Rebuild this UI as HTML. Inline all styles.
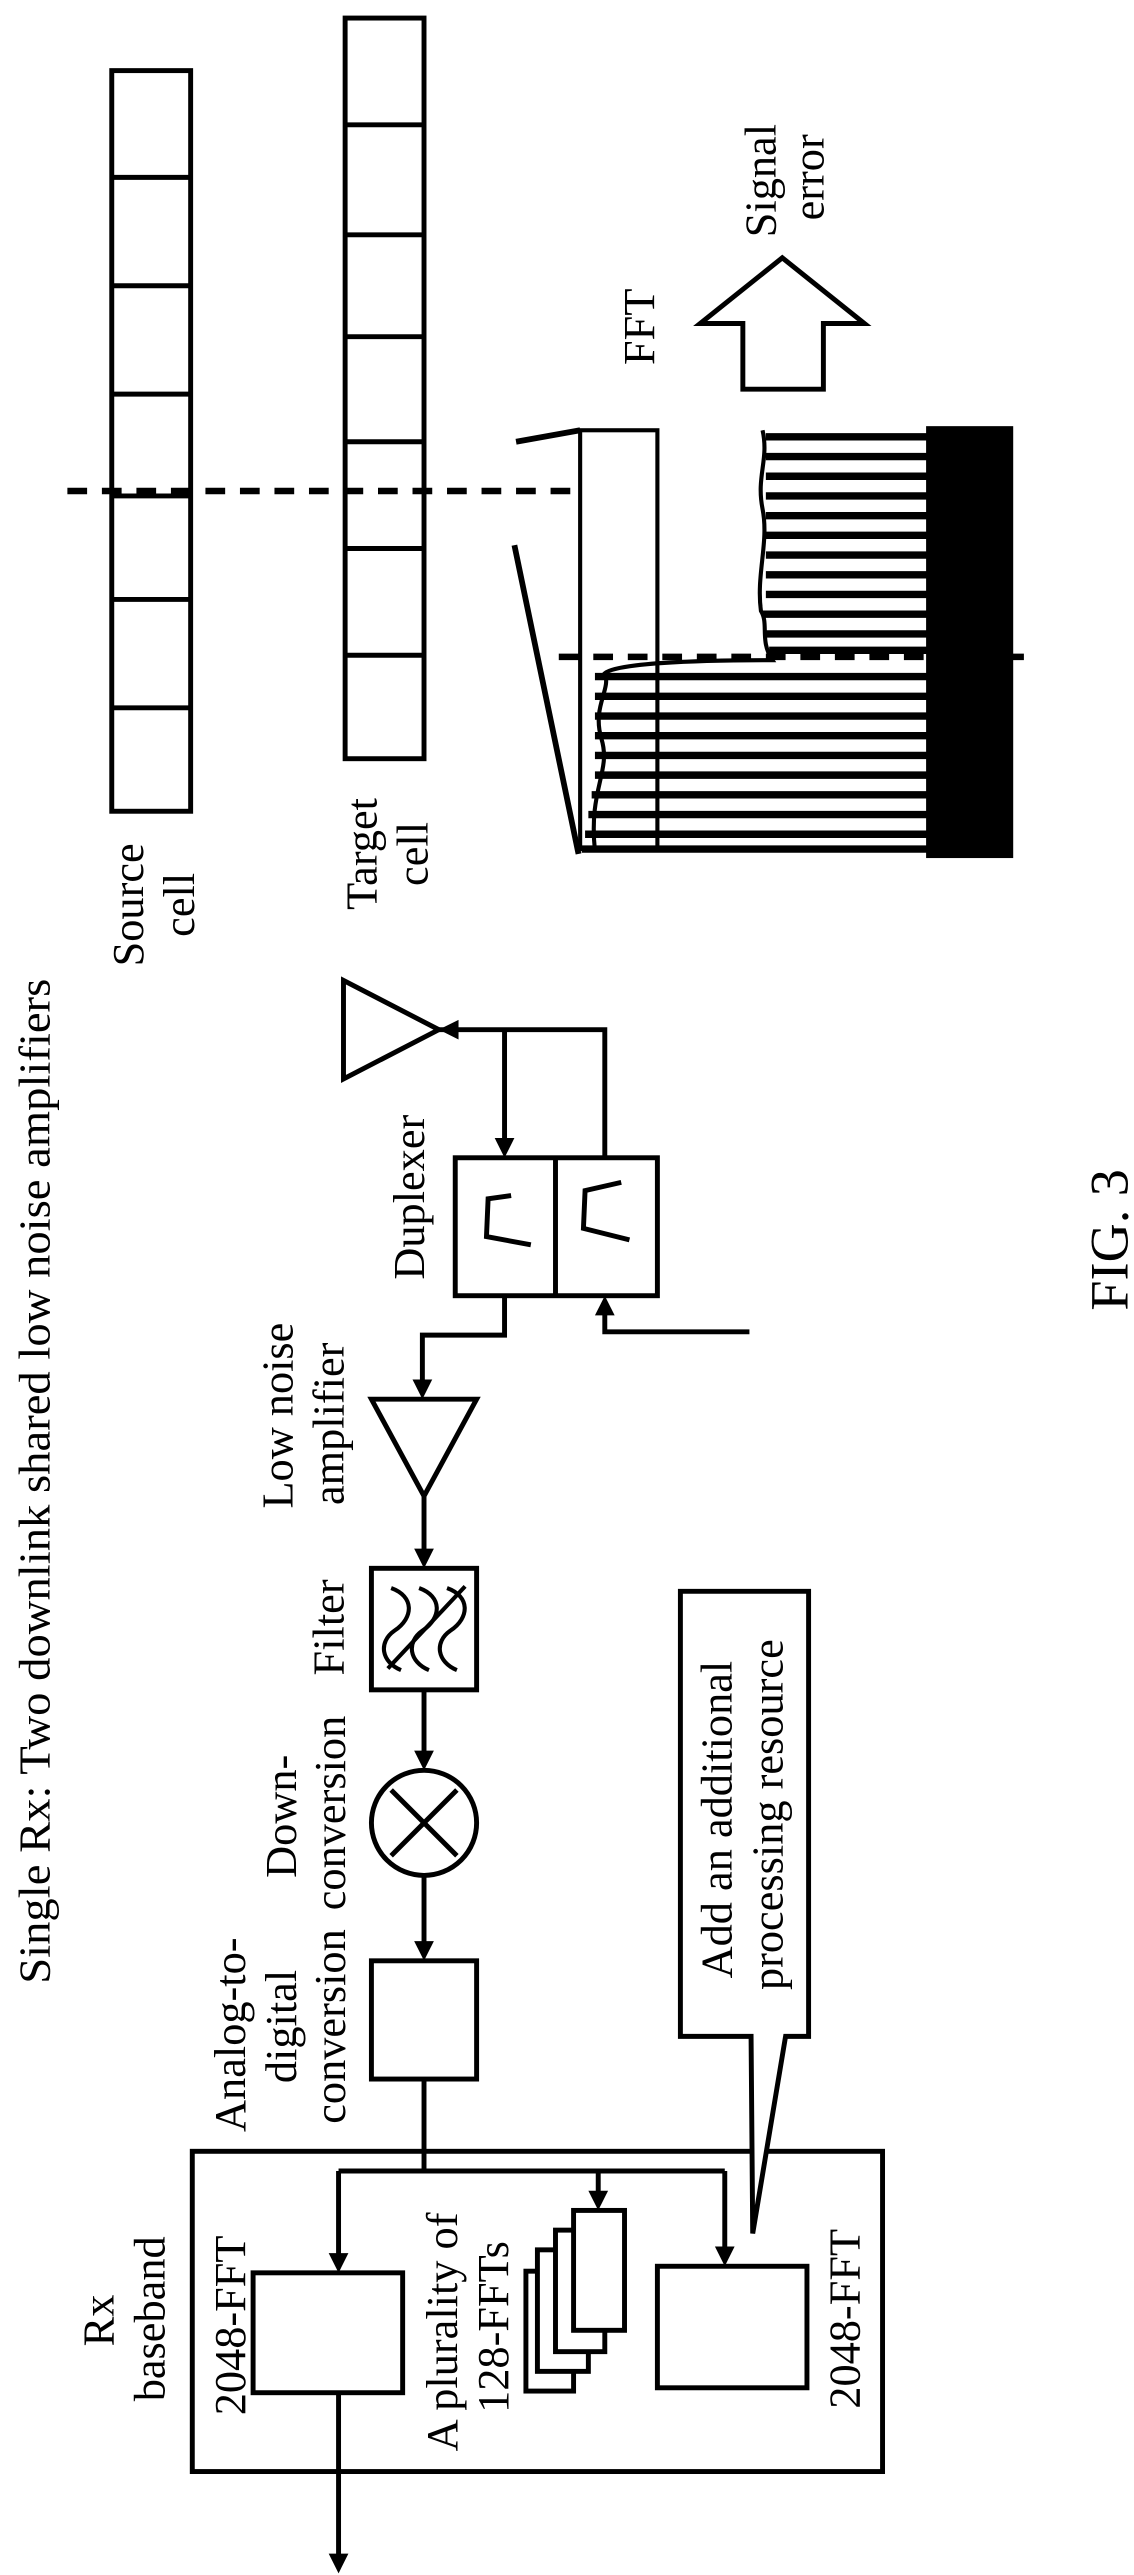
<!DOCTYPE html>
<html><head><meta charset="utf-8"><style>
html,body{margin:0;padding:0;background:#fff;}
svg{display:block;}
text{font-family:"Liberation Serif","Times New Roman",serif;font-size:27px;fill:#000;}
</style></head><body>
<svg width="1134" height="2575" viewBox="0 0 690 1568" preserveAspectRatio="none" xmlns="http://www.w3.org/2000/svg">
<g fill="none" stroke="#000" stroke-width="3">
<rect x="68" y="43" width="48" height="451"/>
<path d="M68 108H116M68 174H116M68 240H116M68 302H116M68 365H116M68 431H116"/>
<rect x="210" y="11" width="48" height="451"/>
<path d="M210 76H258M210 143H258M210 205H258M210 269H258M210 334H258M210 399H258"/>
<path d="M41 299H352" stroke-width="4" stroke-dasharray="12 9"/>
<path d="M340 400H623" stroke-width="4" stroke-dasharray="12 9"/>
<rect x="353" y="262" width="47" height="255" stroke-width="2.5"/>
<path d="M314 269L353 262" stroke-width="3.5"/>
<path d="M313 332L352 520" stroke-width="3.5"/>
<path d="M362 518 C 358 480 372 470 366 450 C 360 430 372 420 368 410 C 375 404 420 402 470 402 C 462 390 468 380 463 372 C 460 350 468 330 464 310 C 460 290 468 280 464 262" stroke-width="2.5"/>
<g stroke-width="4.5">
<path d="M362 412H565M362 424H565M362 436H565M362 448H565M362 460H565M362 472H565M360 484H565M358 496H565M356 508H565M354 517H565"/>
<path d="M466 266H565M466 278H565M466 290H565M466 302H565M466 314H565M466 326H565M466 338H565M466 350H565M466 362H565M464 374H565M465 386H565M468 396H565"/>
</g>
<rect x="565" y="261" width="50" height="260" fill="#000"/>
<polygon points="476,157 526,197 501,197 501,237 452,237 452,197 426,197" stroke-width="3"/>
<polygon points="209,597 209,657 267,627"/>
<path d="M267 627H368V705M307 627V700"/>
<rect x="277" y="705" width="123" height="84"/>
<path d="M338 705V789"/>
<path d="M311 728L297 730L296 753L323 758"/>
<path d="M378 720L356 725L355 748L383 755"/>
<path d="M307 789V813H257V846M456 811H368V795"/>
<polygon points="226,852 290,852 258,911"/>
<path d="M258 911V949M258 1029V1072M258 1142V1188"/>
<rect x="226" y="955" width="64" height="74"/>
<path d="M238 967 C 252 972 252 985 240 993 C 230 1000 232 1012 244 1017" stroke-width="2.5"/>
<path d="M255 967 C 269 972 269 985 257 993 C 247 1000 249 1012 261 1017" stroke-width="2.5"/>
<path d="M272 967 C 286 972 286 985 274 993 C 264 1000 266 1012 278 1017" stroke-width="2.5"/>
<path d="M236 1016 L 283 966" stroke-width="2.5"/>
<circle cx="258" cy="1110" r="32"/>
<path d="M238 1090L278 1130M278 1090L238 1130"/>
<rect x="226" y="1194" width="64" height="72"/>
<path d="M258 1266V1322M206 1322H441M206 1322V1378M441 1322V1374M364 1322V1340"/>
<rect x="117" y="1310" width="420" height="195"/>
<rect x="154" y="1384" width="91" height="73"/>
<rect x="400" y="1380" width="91" height="74"/>
<path d="M206 1457V1560"/>
<rect x="320" y="1383" width="29" height="73" fill="#fff"/>
<rect x="327" y="1370" width="31" height="74" fill="#fff"/>
<rect x="338" y="1358" width="30" height="74" fill="#fff"/>
<rect x="349" y="1346" width="31" height="73" fill="#fff"/>
<polygon points="414,969 492,969 492,1240 478,1240 458,1360 457,1240 414,1240" fill="#fff"/>
</g>
<g fill="#000">
<polygon points="301,693 313,693 307,705"/>
<polygon points="362,801 374,801 368,789"/>
<polygon points="279,621 279,633 267,627"/>
<polygon points="251,840 263,840 257,852"/>
<polygon points="252,943 264,943 258,955"/>
<polygon points="252,1066 264,1066 258,1078"/>
<polygon points="252,1182 264,1182 258,1194"/>
<polygon points="200,1372 212,1372 206,1384"/>
<polygon points="358,1334 370,1334 364,1346"/>
<polygon points="435,1368 447,1368 441,1380"/>
<polygon points="200,1555 212,1555 206,1567"/>
</g>
<text transform="translate(30,902) rotate(-90)" text-anchor="middle" textLength="612" lengthAdjust="spacingAndGlyphs">Single Rx: Two downlink shared low noise amplifiers</text>
<text transform="translate(87,551) rotate(-90)" text-anchor="middle">Source</text>
<text transform="translate(118,551) rotate(-90)" text-anchor="middle">cell</text>
<text transform="translate(229,520) rotate(-90)" text-anchor="middle">Target</text>
<text transform="translate(260,520) rotate(-90)" text-anchor="middle">cell</text>
<text transform="translate(398,199) rotate(-90)" text-anchor="middle">FFT</text>
<text transform="translate(472,110) rotate(-90)" text-anchor="middle">Signal</text>
<text transform="translate(501,108) rotate(-90)" text-anchor="middle">error</text>
<text transform="translate(258,729) rotate(-90)" text-anchor="middle">Duplexer</text>
<text transform="translate(178,862) rotate(-90)" text-anchor="middle">Low noise</text>
<text transform="translate(209,867) rotate(-90)" text-anchor="middle">amplifier</text>
<text transform="translate(209,991) rotate(-90)" text-anchor="middle">Filter</text>
<text transform="translate(180,1106) rotate(-90)" text-anchor="middle">Down-</text>
<text transform="translate(210,1104) rotate(-90)" text-anchor="middle">conversion</text>
<text transform="translate(149,1239) rotate(-90)" text-anchor="middle">Analog-to-</text>
<text transform="translate(180,1234) rotate(-90)" text-anchor="middle">digital</text>
<text transform="translate(210,1234) rotate(-90)" text-anchor="middle">conversion</text>
<text transform="translate(445,1108) rotate(-90)" text-anchor="middle">Add an additional</text>
<text transform="translate(476,1105) rotate(-90)" text-anchor="middle">processing resource</text>
<text transform="translate(69,1413) rotate(-90)" text-anchor="middle">Rx</text>
<text transform="translate(100,1412) rotate(-90)" text-anchor="middle">baseband</text>
<text transform="translate(149,1416) rotate(-90)" text-anchor="middle">2048-FFT</text>
<text transform="translate(523,1412) rotate(-90)" text-anchor="middle">2048-FFT</text>
<text transform="translate(278,1420) rotate(-90)" text-anchor="middle">A plurality of</text>
<text transform="translate(309,1417) rotate(-90)" text-anchor="middle">128-FFTs</text>
<text transform="translate(686,755) rotate(-90)" text-anchor="middle" style="font-size:33px">FIG. 3</text>
</svg>
</body></html>
